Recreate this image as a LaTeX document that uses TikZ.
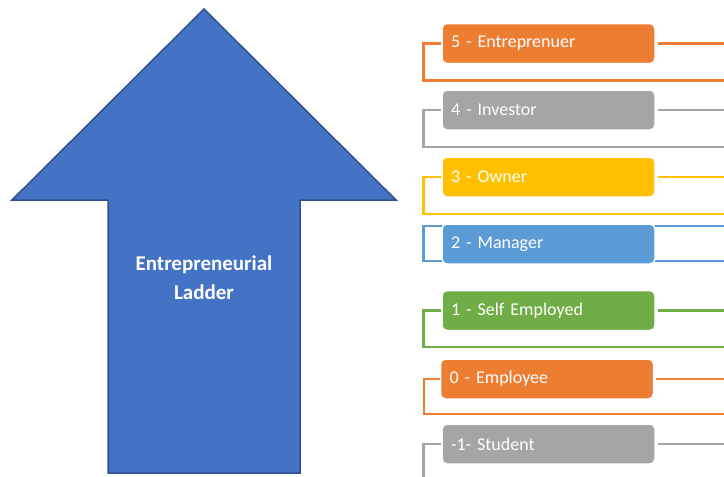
\documentclass[tikz,border=0pt]{standalone}
\usepackage{fontspec}
\setmainfont{Carlito}
\usetikzlibrary{backgrounds}
\definecolor{accorange}{HTML}{ED7D31}
\definecolor{accgray}{HTML}{A5A5A5}
\definecolor{accgold}{HTML}{FFC000}
\definecolor{acclblue}{HTML}{5B9BD5}
\definecolor{accgreen}{HTML}{70AD47}
\definecolor{accblue}{HTML}{4472C4}
\definecolor{accdark}{HTML}{2F528F}
\tikzset{%
  % Specifications for style of nodes:
        base/.style = {rectangle, rounded corners=5pt, draw=white,
                       line width=1.5pt, minimum height=40pt,
                       text width=195pt, inner xsep=9pt, align=left,
                       text=white, font=\fontsize{18}{22}\selectfont},
        rung/.style = {base, fill=#1},
        rail/.style = {draw=#1, line width=2.5pt},
       title/.style = {text=white, align=center,
                       font=\bfseries\fontsize{21}{29}\selectfont}
}

\begin{document}
\begin{tikzpicture}[x=1pt, y=-1pt]
  \useasboundingbox (0,0) rectangle (724,477);
  % The big arrow
  \draw[fill=accblue, draw=accdark, line width=1.5pt]
    (204,9) -- (396,200) -- (300,200) -- (300,473) -- (108,473)
    -- (108,200) -- (12,200) -- cycle;
  \node (ladder) [title] at (204,278) {Entrepreneurial\\Ladder};

  % Specification of nodes (position, etc.)
  \node (rungfive)  [rung=accorange] at (548.5,43.5) {5 - Entreprenuer};
  \node (rungfour)  [rung=accgray]   at (548.5,110)  {4 - Investor};
  \node (rungthree) [rung=accgold]   at (548.5,177)  {3 - Owner};
  \node (rungtwo)   [rung=acclblue]  at (548.5,244)  {2 - Manager};
  \node (rungone)   [rung=accgreen]  at (548.5,310.5) {1 - Self Employed};
  \node (rungzero)  [rung=accorange] at (547,379)    {0 - Employee};
  \node (rungneg)   [rung=accgray]   at (548.5,444)  {-1- Student};

  \coordinate (fiveend)  at (724,80.5);
  \coordinate (fourend)  at (724,147);
  \coordinate (threeend) at (724,214);
  \coordinate (twotop)   at (724,226);
  \coordinate (twoend)   at (724,261);
  \coordinate (oneend)   at (724,347);
  \coordinate (zeroend)  at (724,414);
  \coordinate (negend)   at (724,490);

  \begin{scope}[on background layer]
  \draw[rail=accorange] (rungfive.west) -- ++(-18,0) |- (fiveend);
  \draw[rail=accorange, shorten <=2pt] (rungfive.east) -- (rungfive.east -| fiveend);

  \draw[rail=accgray] (rungfour.west) -- ++(-18,0) |- (fourend);
  \draw[rail=accgray, shorten <=2pt] (rungfour.east) -- (rungfour.east -| fourend);

  \draw[rail=accgold] (rungthree.west) -- ++(-18,0) |- (threeend);
  \draw[rail=accgold, shorten <=2pt] (rungthree.east) -- (rungthree.east -| threeend);

  \draw[rail=acclblue] (twotop) -| ([xshift=-18pt]rungtwo.west) |- (twoend);

  \draw[rail=accgreen] (rungone.west) -- ++(-18,0) |- (oneend);
  \draw[rail=accgreen, shorten <=2pt] (rungone.east) -- (rungone.east -| oneend);

  \draw[rail=accorange] (rungzero.west) -- ++(-16,0) |- (zeroend);
  \draw[rail=accorange, shorten <=2pt] (rungzero.east) -- (rungzero.east -| zeroend);

  \draw[rail=accgray] (rungneg.west) -- ++(-18,0) |- (negend);
  \draw[rail=accgray, shorten <=2pt] (rungneg.east) -- (rungneg.east -| negend);
  \end{scope}
\end{tikzpicture}
\end{document}
